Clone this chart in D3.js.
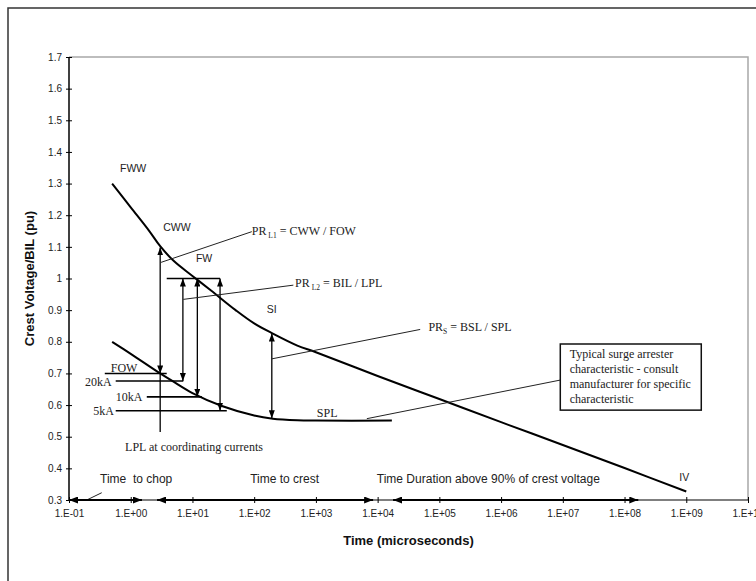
<!DOCTYPE html>
<html><head><meta charset="utf-8">
<script src="https://cdnjs.cloudflare.com/ajax/libs/d3/7.8.5/d3.min.js"></script>
<style>body{margin:0;background:#fff}svg{display:block}</style>
</head><body><svg id="c" width="756" height="581"></svg>
<script>
// ---------- data ----------
const xTicks = [1e-1,1e0,1e1,1e2,1e3,1e4,1e5,1e6,1e7,1e8,1e9,1e10];
const xTickLabels = ["1.E-01","1.E+00","1.E+01","1.E+02","1.E+03","1.E+04","1.E+05","1.E+06","1.E+07","1.E+08","1.E+09","1.E+10"];
const yTicks = [0.3,0.4,0.5,0.6,0.7,0.8,0.9,1.0,1.1,1.2,1.3,1.4,1.5,1.6,1.7];
const yTickLabels = ["0.3","0.4","0.5","0.6","0.7","0.8","0.9","1","1.1","1.2","1.3","1.4","1.5","1.6","1.7"];

// insulation volt-time characteristic
const insulationT = [0.5,1,2,3,5,10,20,50,100,200,500,1000,1e4,1e5,1e6,1e7,1e8,1e9];
const insulationV = [1.30,1.225,1.150,1.102,1.055,1.008,0.962,0.900,0.858,0.826,0.788,0.767,0.692,0.619,0.546,0.474,0.401,0.327];
// surge arrester characteristic
const arresterT = [0.5,1,3,5,10,30,100,200,500,1000,17000];
const arresterV = [0.80,0.762,0.70,0.673,0.638,0.597,0.567,0.557,0.552,0.551,0.551];

// protective levels (horizontal lines)
const levelNames = ["FOW","20kA","10kA","5kA"];
const levelV  = [0.70,0.676,0.626,0.582];
const levelT0 = [0.38,0.571,1.82,0.571];
const levelT1 = [3.83,7.1,14.2,36];
const bilV = 1.0, bilT0 = 3.83, bilT1 = 28;
const bilArrowT = [7,12,28];
const cwwT = 3, cwwV = 1.098;
const lplLeaderV = 0.515;
const siT = 193, bslV = 0.826, splV = 0.558;

// curve labels [text, t, V]
const curveLabels = [["FWW",0.67,1.337],["CWW",3.37,1.150],["FW",11.4,1.052],["SI",160,0.891],["IV",7.7e8,0.36]];
// time-span arrows along the axis
const spanNames = ["Time  to chop","Time to crest","Time Duration above 90% of crest voltage"];
const spanT0 = [0.1,2.67,17800];
const spanT1 = [1.52,8450,1.67e8];
const spanLabelT = [0.318,86,9700];
const spanLabelV = 0.354;

// ---------- chart ----------
const svg = d3.select('#c');
const M = {left:69,right:748,top:57,bottom:500};
const x = d3.scaleLog().domain([0.1,1e10]).range([M.left,M.right]);
const y = d3.scaleLinear().domain([0.3,1.7]).range([M.bottom,M.top]);
const SANS = "'Liberation Sans', Arial, sans-serif";
const SERIF = "'Liberation Serif', 'Times New Roman', serif";

const defs = svg.append('defs');
defs.append('marker').attr('id','ah').attr('viewBox','0 0 8 6')
  .attr('markerUnits','userSpaceOnUse').attr('markerWidth',8).attr('markerHeight',6)
  .attr('refX',8).attr('refY',3).attr('orient','auto-start-reverse')
  .append('path').attr('d','M0,0L8,3L0,6Z').attr('fill','#000');
defs.append('marker').attr('id','ahb').attr('viewBox','0 0 9 7')
  .attr('markerUnits','userSpaceOnUse').attr('markerWidth',9).attr('markerHeight',7)
  .attr('refX',9).attr('refY',3.5).attr('orient','auto-start-reverse')
  .append('path').attr('d','M0,0L9,3.5L0,7Z').attr('fill','#000');

// outer frame
svg.append('rect').attr('x',8).attr('y',8).attr('width',900).attr('height',700)
  .attr('fill','none').attr('stroke','#333').attr('stroke-width',1.5);

// plot border top/right (gray)
svg.append('path').attr('d',`M${M.left},${M.top}H${M.right}V${M.bottom}`)
  .attr('fill','none').attr('stroke','#a8a8a8').attr('stroke-width',1.5);

// y axis
const yAxis = d3.axisLeft(y).tickValues(yTicks).tickSize(3).tickPadding(4)
  .tickFormat((d,i)=>yTickLabels[i]);
const gy = svg.append('g').attr('transform',`translate(${M.left},0)`).call(yAxis);
gy.select('.domain').remove();
gy.selectAll('.tick line').attr('x1',3).attr('stroke','#000').attr('stroke-width',1);
gy.selectAll('.tick text').attr('font-family',SANS).attr('font-size',10).attr('fill','#222').attr('x',-7);
svg.append('line').attr('x1',M.left).attr('x2',M.left).attr('y1',M.top).attr('y2',M.bottom)
  .attr('stroke','#000').attr('stroke-width',1.5);

// x axis
const xAxis = d3.axisBottom(x).tickValues(xTicks).tickSize(3).tickPadding(7)
  .tickFormat((d,i)=>xTickLabels[i]);
const gx = svg.append('g').attr('transform',`translate(0,${M.bottom})`).call(xAxis);
gx.select('.domain').remove();
gx.selectAll('.tick line').attr('y1',-3).attr('stroke','#000').attr('stroke-width',1);
gx.selectAll('.tick text').attr('font-family',SANS).attr('font-size',10).attr('fill','#222');
svg.append('line').attr('x1',M.left).attr('x2',M.right).attr('y1',M.bottom).attr('y2',M.bottom)
  .attr('stroke','#000').attr('stroke-width',1.2);

// axis titles
svg.append('text').attr('transform',`translate(34,${(M.top+M.bottom)/2}) rotate(-90)`)
  .attr('text-anchor','middle').attr('font-family',SANS).attr('font-weight','bold')
  .attr('font-size',13).attr('fill','#111').text('Crest Voltage/BIL (pu)');
svg.append('text').attr('x',(M.left+M.right)/2).attr('y',545)
  .attr('text-anchor','middle').attr('font-family',SANS).attr('font-weight','bold')
  .attr('font-size',13).attr('fill','#111').text('Time (microseconds)');

// curves
const line = d3.line().x(d=>x(d[0])).y(d=>y(d[1])).curve(d3.curveCatmullRom.alpha(0.5));
svg.append('path').datum(insulationT.map((t,i)=>[t,insulationV[i]]))
  .attr('d',line).attr('fill','none').attr('stroke','#000').attr('stroke-width',2);
svg.append('path').datum(arresterT.map((t,i)=>[t,arresterV[i]]))
  .attr('d',line).attr('fill','none').attr('stroke','#000').attr('stroke-width',2);

// level lines
levelNames.forEach((n,i)=>{
  svg.append('line').attr('x1',x(levelT0[i])).attr('x2',x(levelT1[i]))
    .attr('y1',y(levelV[i])).attr('y2',y(levelV[i])).attr('stroke','#000').attr('stroke-width',1.6);
});
svg.append('line').attr('x1',x(bilT0)).attr('x2',x(bilT1)).attr('y1',y(bilV)).attr('y2',y(bilV))
  .attr('stroke','#000').attr('stroke-width',1.6);

function vArrow(t,v0,v1){
  svg.append('line').attr('x1',x(t)).attr('x2',x(t)).attr('y1',y(v0)).attr('y2',y(v1))
    .attr('stroke','#000').attr('stroke-width',1.3)
    .attr('marker-start','url(#ah)').attr('marker-end','url(#ah)');
}
bilArrowT.forEach((t,i)=>vArrow(t,levelV[i+1],bilV));
vArrow(cwwT,levelV[0],cwwV);
vArrow(siT,splV,bslV);
svg.append('line').attr('x1',x(cwwT)).attr('x2',x(cwwT)).attr('y1',y(levelV[0])).attr('y2',y(lplLeaderV))
  .attr('stroke','#000').attr('stroke-width',1.3);

// leader lines [t0,v0,t1,v1]
const leaders = [[3.1,1.051,91.5,1.148],[7.1,0.934,431,0.979],[193,0.746,48900,0.839],[6680,0.557,9.1e6,0.679],[0.194,0.3,0.339,0.323]];
leaders.forEach(l=>{
  svg.append('line').attr('x1',x(l[0])).attr('y1',y(l[1])).attr('x2',x(l[2])).attr('y2',y(l[3]))
    .attr('stroke','#222').attr('stroke-width',1);
});

// curve labels
curveLabels.forEach(c=>{
  svg.append('text').attr('x',x(c[1])).attr('y',y(c[2])).attr('font-family',SANS)
    .attr('font-size',10.5).attr('fill','#222').text(c[0]);
});
// serif labels
svg.append('text').attr('x',x(1035)).attr('y',y(0.562)).attr('font-family',SERIF).attr('font-size',12).attr('fill','#222').text('SPL');
svg.append('text').attr('x',x(0.474)).attr('y',y(0.705)).attr('font-family',SERIF).attr('font-size',12).attr('fill','#222').text('FOW');
const lvlLabelPos = [[0.492,0.659,"20kA"],[1.54,0.614,"10kA"],[0.536,0.570,"5kA"]];
lvlLabelPos.forEach(p=>{
  svg.append('text').attr('x',x(p[0])).attr('y',y(p[1])).attr('text-anchor','end')
    .attr('font-family',SERIF).attr('font-size',12).attr('fill','#222').text(p[2]);
});
svg.append('text').attr('x',x(0.81)).attr('y',y(0.455)).attr('font-family',SERIF).attr('font-size',12)
  .attr('fill','#222').text('LPL at coordinating currents');

function prLabel(t,v,sub,rest){
  const tx = svg.append('text').attr('x',x(t)).attr('y',y(v)).attr('font-family',SERIF)
    .attr('font-size',12).attr('fill','#222');
  tx.append('tspan').text('PR');
  tx.append('tspan').attr('font-size',7.5).attr('dy',3).text(sub);
  tx.append('tspan').attr('dy',-3).text(rest);
}
prLabel(91.5,1.137,' L1',' = CWW / FOW');
prLabel(460,0.972,' L2',' = BIL / LPL');
prLabel(66500,0.834,'S',' = BSL / SPL');

// note box
const boxT0 = 9.1e6, boxT1 = 1.75e9, boxV0 = 0.793, boxV1 = 0.584;
svg.append('rect').attr('x',x(boxT0)).attr('y',y(boxV0)).attr('width',x(boxT1)-x(boxT0))
  .attr('height',y(boxV1)-y(boxV0)).attr('fill','#fff').attr('stroke','#111').attr('stroke-width',1.5);
const boxLines = ["Typical surge arrester","characteristic - consult","manufacturer for specific","characteristic"];
const boxLineV = [0.7475,0.701,0.6545,0.608];
boxLines.forEach((s,i)=>{
  svg.append('text').attr('x',x(1.29e7)).attr('y',y(boxLineV[i])).attr('font-family',SERIF)
    .attr('font-size',12).attr('fill','#222').text(s);
});

// time span arrows
spanNames.forEach((n,i)=>{
  svg.append('line').attr('x1',x(spanT0[i])).attr('x2',x(spanT1[i])).attr('y1',y(0.3)).attr('y2',y(0.3))
    .attr('stroke','#000').attr('stroke-width',2.2)
    .attr('marker-start','url(#ahb)').attr('marker-end','url(#ahb)');
  svg.append('text').attr('x',x(spanLabelT[i])).attr('y',y(spanLabelV)).attr('font-family',SANS)
    .attr('font-size',12).attr('fill','#222').attr('xml:space','preserve').style('white-space','pre').text(n);
});
</script></body></html>
